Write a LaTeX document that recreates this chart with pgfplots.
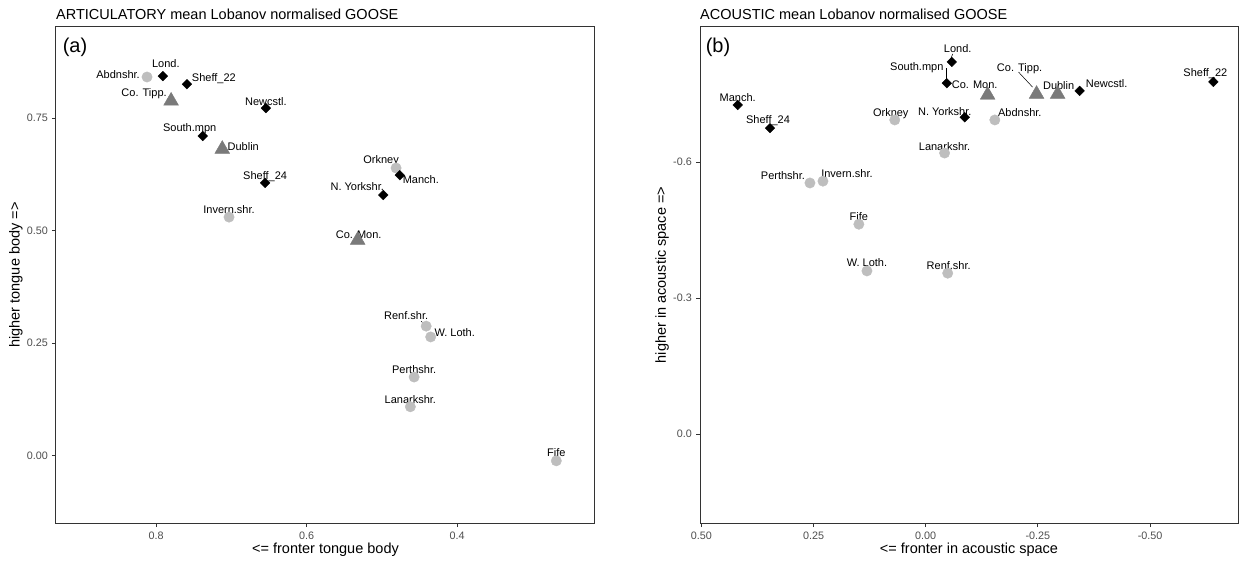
\documentclass[border=0pt]{standalone}
\usepackage{fontspec}
\setmainfont{Liberation Sans}
\usepackage{pgfplots}
\pgfplotsset{compat=1.18}
\definecolor{tri}{HTML}{7A7A7A}
\definecolor{cir}{HTML}{BEBEBE}
\definecolor{axc}{HTML}{333333}
\definecolor{tk}{HTML}{4D4D4D}
\pgfplotsset{
 myax/.style={scale only axis, height=496pt, anchor=south west,
  axis line style={axc, line width=1pt},
  tick style={axc, line width=0.9pt}, major tick length=4pt, tick align=outside,
  xtick pos=bottom, ytick pos=left,
  ticklabel style={font=\fontsize{10.8}{12}\selectfont, text=tk},
  xticklabel style={inner sep=0pt, yshift=-5pt},
  yticklabel style={inner sep=0pt, xshift=-4pt},
  clip=false,
 },
}
\tikzset{lbl/.style={font=\fontsize{11}{12}\selectfont, inner sep=0pt, text height=7.9pt, text depth=0pt}}
\newcommand\lab[5]{\node[lbl,xshift=#3pt,yshift=#4pt] at (axis cs:#1,#2) {#5};}
\begin{document}
\begin{tikzpicture}
\useasboundingbox (0,0) rectangle (1239pt,562pt);
% ---------------- left panel ----------------
\begin{axis}[myax, width=539pt, at={(56pt,39pt)}, x dir=reverse,
  xmin=0.2166, xmax=0.933, ymin=-0.149, ymax=0.952,
  xtick={0.4,0.6,0.8}, xticklabels={0.4,0.6,0.8},
  ytick={0,0.25,0.5,0.75}, yticklabels={0.00,0.25,0.50,0.75}]
\addplot[only marks, mark=*, mark size=5.2pt, color=cir] coordinates {
 (0.812,0.841) (0.703,0.530) (0.481,0.639) (0.441,0.288) (0.435,0.264)
 (0.457,0.175) (0.462,0.109) (0.268,-0.011)};
\addplot[only marks, mark=triangle*, mark size=8.5pt, color=tri] coordinates {
 (0.780,0.788) (0.712,0.681) (0.532,0.479)};
\addplot[only marks, mark=square*, mark options={rotate=45}, mark size=3.4pt, color=black] coordinates {
 (0.791,0.843) (0.759,0.825) (0.654,0.772) (0.738,0.710) (0.655,0.606)
 (0.476,0.623) (0.498,0.579)};
\lab{0.812}{0.841}{-29}{2}{Abdnshr.}
\lab{0.791}{0.843}{3}{13}{Lond.}
\lab{0.759}{0.825}{27}{7}{Sheff\_22}
\lab{0.780}{0.788}{-27}{8}{Co. Tipp.}
\lab{0.654}{0.772}{0}{7}{Newcstl.}
\lab{0.738}{0.710}{-13}{8}{South.mpn}
\lab{0.712}{0.681}{21}{3}{Dublin}
\lab{0.655}{0.606}{0}{7}{Sheff\_24}
\lab{0.703}{0.530}{0}{8}{Invern.shr.}
\lab{0.481}{0.639}{-15}{8}{Orkney}
\lab{0.476}{0.623}{21}{-4}{Manch.}
\lab{0.498}{0.579}{-26}{8}{N. Yorkshr.}
\lab{0.532}{0.479}{1}{6}{Co. Mon.}
\lab{0.441}{0.288}{-20}{11}{Renf.shr.}
\lab{0.435}{0.264}{24}{4}{W. Loth.}
\lab{0.457}{0.175}{0}{7}{Perthshr.}
\lab{0.462}{0.109}{0}{7}{Lanarkshr.}
\lab{0.268}{-0.011}{0}{8}{Fife}
\draw[black, line width=0.5pt] ([shift={(-5pt,5pt)}]axis cs:0.441,0.288) -- ([shift={(-2pt,1.5pt)}]axis cs:0.441,0.288);
\end{axis}
% ---------------- right panel ----------------
\begin{axis}[myax, width=538.5pt, at={(700pt,39pt)}, x dir=reverse, y dir=reverse,
  xmin=-0.697, xmax=0.503, ymin=-0.898, ymax=0.196,
  xtick={-0.5,-0.25,0,0.25,0.5}, xticklabels={-0.50,-0.25,0.00,0.25,0.50},
  ytick={-0.6,-0.3,0}, yticklabels={-0.6,-0.3,0.0}]
\addplot[only marks, mark=*, mark size=5.2pt, color=cir] coordinates {
 (0.069,-0.693) (-0.154,-0.693) (-0.042,-0.620) (0.258,-0.554) (0.229,-0.558)
 (0.149,-0.463) (0.131,-0.360) (-0.049,-0.355)};
\addplot[only marks, mark=triangle*, mark size=8.5pt, color=tri] coordinates {
 (-0.138,-0.748) (-0.247,-0.750) (-0.294,-0.750)};
\addplot[only marks, mark=square*, mark options={rotate=45}, mark size=3.4pt, color=black] coordinates {
 (-0.058,-0.821) (-0.047,-0.774) (-0.087,-0.699) (-0.343,-0.757) (-0.641,-0.777)
 (0.419,-0.726) (0.347,-0.675)};
\lab{0.419}{-0.726}{0}{7}{Manch.}
\lab{0.347}{-0.675}{-2}{9}{Sheff\_24}
\lab{0.069}{-0.693}{-4}{7}{Orkney}
\lab{-0.047}{-0.774}{-30}{17}{South.mpn}
\lab{-0.058}{-0.821}{6}{13}{Lond.}
\lab{-0.087}{-0.699}{-20}{6}{N. Yorkshr.}
\lab{-0.042}{-0.620}{0}{6}{Lanarkshr.}
\lab{-0.138}{-0.748}{-13}{10}{Co. Mon.}
\lab{-0.247}{-0.750}{-17}{27}{Co. Tipp.}
\lab{-0.294}{-0.750}{1}{9}{Dublin}
\lab{-0.343}{-0.757}{27}{7}{Newcstl.}
\lab{-0.154}{-0.693}{25}{7}{Abdnshr.}
\lab{-0.641}{-0.777}{-8}{9}{Sheff\_22}
\lab{0.258}{-0.554}{-27}{7}{Perthshr.}
\lab{0.229}{-0.558}{24}{8}{Invern.shr.}
\lab{0.149}{-0.463}{0}{8}{Fife}
\lab{0.131}{-0.360}{0}{8}{W. Loth.}
\lab{-0.049}{-0.355}{1}{8}{Renf.shr.}
\draw[black, line width=0.5pt] ([shift={(-1pt,15pt)}]axis cs:-0.047,-0.774) -- ([shift={(-1pt,3pt)}]axis cs:-0.047,-0.774);
\draw[black, line width=0.5pt] ([shift={(1pt,8pt)}]axis cs:-0.058,-0.821) -- ([shift={(-1pt,3pt)}]axis cs:-0.058,-0.821);
\draw[black, line width=0.5pt] ([shift={(-18pt,22pt)}]axis cs:-0.247,-0.750) -- ([shift={(-4pt,7pt)}]axis cs:-0.247,-0.750);
\end{axis}
% ---------------- titles and labels ----------------
\node[anchor=base west, inner sep=0pt, font=\fontsize{14.5}{16}\selectfont] at (56pt,542pt) {ARTICULATORY mean Lobanov normalised GOOSE};
\node[anchor=base west, inner sep=0pt, font=\fontsize{14.5}{16}\selectfont] at (700pt,542pt) {ACOUSTIC mean Lobanov normalised GOOSE};
\node[font=\fontsize{20}{24}\selectfont, inner sep=0pt] at (75pt,515pt) {(a)};
\node[font=\fontsize{20}{24}\selectfont, inner sep=0pt] at (718pt,515pt) {(b)};
\node[font=\fontsize{14.5}{16}\selectfont, inner sep=0pt] at (325.5pt,12pt) {<= fronter tongue body};
\node[font=\fontsize{14.5}{16}\selectfont, inner sep=0pt] at (969pt,12pt) {<= fronter in acoustic space};
\node[font=\fontsize{14.5}{16}\selectfont, inner sep=0pt, rotate=90] at (16pt,287pt) {higher tongue body =>};
\node[font=\fontsize{14.5}{16}\selectfont, inner sep=0pt, rotate=90] at (662pt,287pt) {higher in acoustic space =>};
\end{tikzpicture}
\end{document}
